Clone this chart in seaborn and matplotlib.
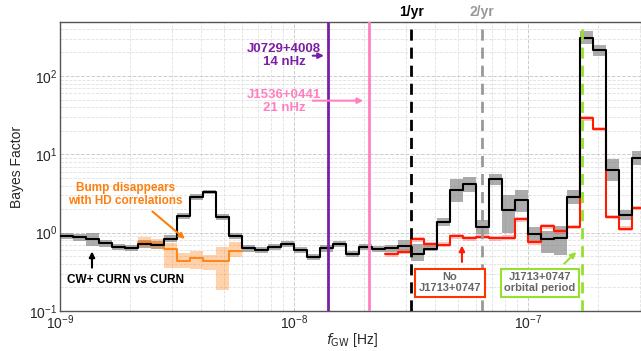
import numpy as np
import matplotlib
matplotlib.use("Agg")
import matplotlib.pyplot as plt
import matplotlib.transforms as mtransforms
import seaborn as sns

# -----------------------------
# Data: log-spaced GW frequency bins (18 per decade) and Bayes factors
# -----------------------------
freq_edges = np.logspace(-9, -6.5, 46)

bf_curn = [0.90, 0.87, 0.82, 0.73, 0.66, 0.64, 0.72, 0.70, 0.84, 1.62,
           2.86, 3.30, 1.59, 0.91, 0.63, 0.60, 0.65, 0.71, 0.60, 0.49,
           0.63, 0.72, 0.54, 0.66, 0.62, 0.63, 0.67, 0.54, 0.62, 1.36,
           3.47, 4.20, 1.18, 4.90, 1.95, 2.62, 0.95, 0.84, 0.85, 2.85,
           309.0, 212.0, 6.25, 1.70, 9.0]
# shaded band half-widths in dex (up / down)
curn_up = [0.04, 0.04, 0.08, 0.04, 0.04, 0.04, 0.05, 0.05, 0.04, 0.04,
           0.04, 0.03, 0.04, 0.04, 0.04, 0.04, 0.04, 0.04, 0.04, 0.04,
           0.04, 0.04, 0.04, 0.04, 0.04, 0.04, 0.075, 0.12, 0.06, 0.05,
           0.15, 0.085, 0.085, 0.065, 0.19, 0.13, 0.10, 0.10, 0.15, 0.085,
           0.08, 0.065, 0.15, 0.065, 0.09]
curn_dn = [0.04, 0.04, 0.08, 0.04, 0.04, 0.04, 0.05, 0.05, 0.04, 0.04,
           0.04, 0.03, 0.04, 0.04, 0.04, 0.04, 0.04, 0.04, 0.04, 0.04,
           0.04, 0.04, 0.04, 0.04, 0.04, 0.04, 0.075, 0.09, 0.03, 0.05,
           0.15, 0.105, 0.085, 0.085, 0.30, 0.15, 0.10, 0.19, 0.22, 0.085,
           0.08, 0.065, 0.13, 0.065, 0.09]

# HD-correlated run (bins 6-13)
hd_start = 6
bf_hd = [0.75, 0.71, 0.61, 0.44, 0.47, 0.43, 0.43, 0.59]
hd_up = [0.064, 0.064, 0.085, 0.10, 0.10, 0.077, 0.18, 0.11]
hd_dn = [0.064, 0.064, 0.23, 0.10, 0.14, 0.115, 0.37, 0.085]

# run without J1713+0747 (bins 25-44)
no1713_start = 25
bf_no1713 = [0.53, 0.57, 0.82, 0.71, 0.70, 0.90, 0.85, 0.89, 0.85, 0.86,
             1.48, 0.75, 1.20, 1.04, 1.18, 29.0, 21.0, 1.59, 1.12, 2.07]
no1713_err = 0.03

# reference frequencies
yr = 365.25 * 86400
f_1yr = 1 / yr
f_2yr = 2 / yr
f_j0729 = 14e-9
f_j1536 = 21e-9
f_j1713 = 1 / (67.825 * 86400)

# -----------------------------
# Plot
# -----------------------------
sns.set_style("ticks")
plt.rcParams["font.family"] = ["Liberation Sans", "DejaVu Sans"]
plt.rcParams["mathtext.fontset"] = "dejavusans"

fig = plt.figure(figsize=(6.41, 3.51), dpi=100)
ax = fig.add_axes([60 / 641, 40 / 351, 583 / 641, 289 / 351])


def step_series(start, vals, up, dn):
    e = freq_edges[start:start + len(vals) + 1]
    v = np.asarray(vals, float)
    v = np.append(v, v[-1])
    hi = v * 10 ** np.append(up, up[-1])
    lo = v / 10 ** np.append(dn, dn[-1])
    return e, v, lo, hi


# CURN band + line
e, v, lo, hi = step_series(0, bf_curn, np.array(curn_up), np.array(curn_dn))
ax.fill_between(e, lo, hi, step="post", color="#808080", alpha=0.65, lw=0, zorder=2)
curn_line = (e, v)

# HD band + line
e, v, lo, hi = step_series(hd_start, bf_hd, np.array(hd_up), np.array(hd_dn))
ax.fill_between(e, lo, hi, step="post", color="#ff7f0e", alpha=0.35, lw=0, zorder=2)
sns.lineplot(x=e, y=v, drawstyle="steps-post", color="#ff7f0e", lw=1.3,
             estimator=None, sort=False, ax=ax, zorder=3)

# no J1713 band + line
n = len(bf_no1713)
e, v, lo, hi = step_series(no1713_start, bf_no1713,
                           np.full(n, no1713_err), np.full(n, no1713_err))
ax.fill_between(e, lo, hi, step="post", color="#ff4d4d", alpha=0.35, lw=0, zorder=2)
sns.lineplot(x=e, y=v, drawstyle="steps-post", color="#ff1a00", lw=1.5,
             estimator=None, sort=False, ax=ax, zorder=3)

sns.lineplot(x=curn_line[0], y=curn_line[1], drawstyle="steps-post", color="black",
             lw=1.5, estimator=None, sort=False, ax=ax, zorder=4)

# vertical reference lines
ax.axvline(f_j0729, color="#7b1fa2", lw=2, zorder=5)
ax.axvline(f_j1536, color="#ff80c0", lw=2, zorder=5)
ax.axvline(f_1yr, color="black", lw=2, ls=(0, (4, 2.5)), zorder=5)
ax.axvline(f_2yr, color="#999999", lw=2, ls=(0, (4, 2.5)), zorder=5)
ax.axvline(f_j1713, color="#96e02e", lw=2, ls=(0, (4, 2.5)), zorder=5)

ax.set_xscale("log")
ax.set_yscale("log")
ax.set_xlim(1e-9, 3.1e-7)
ax.set_ylim(0.1, 490)

ax.grid(which="major", ls="--", color="#cccccc", lw=0.7)
ax.grid(which="minor", ls="--", color="#e0e0e0", lw=0.6)
ax.tick_params(which="both", length=0, labelsize=10, pad=2)
for s in ax.spines.values():
    s.set_color("#555555")
    s.set_linewidth(1.0)

ax.set_xlabel(r"$f_{\rm GW}$ [Hz]", fontsize=10, labelpad=-1)
ax.set_ylabel("Bayes Factor", fontsize=10, labelpad=4)

# labels above axes
trans = mtransforms.blended_transform_factory(ax.transData, ax.transAxes)
ax.text(f_1yr, 1.012, "1/yr", transform=trans, ha="center", va="bottom",
        fontsize=10, fontweight="bold", color="black")
ax.text(f_2yr, 1.012, "2/yr", transform=trans, ha="center", va="bottom",
        fontsize=10, fontweight="bold", color="#999999")

# annotations
ax.text(9.06e-9, 185, "J0729+4008\n14 nHz", ha="center", va="center",
        fontsize=9.5, fontweight="bold", color="#7b1fa2", linespacing=1.1, zorder=6)
ax.annotate("", xy=(1.38e-8, 182), xytext=(1.17e-8, 182),
            arrowprops=dict(arrowstyle="-|>", color="#7b1fa2", lw=1.5,
                            mutation_scale=8), zorder=6)
ax.text(9.06e-9, 47, "J1536+0441\n21 nHz", ha="center", va="center",
        fontsize=9.5, fontweight="bold", color="#ff80c0", linespacing=1.1, zorder=6)
ax.annotate("", xy=(2.03e-8, 48.5), xytext=(1.17e-8, 48.5),
            arrowprops=dict(arrowstyle="-|>", color="#ff80c0", lw=1.5,
                            mutation_scale=8), zorder=6)

ax.text(1.9e-9, 3.06, "Bump disappears\nwith HD correlations", ha="center",
        va="center", fontsize=8.5, fontweight="bold", color="#ff7f0e",
        linespacing=1.1, zorder=6)
ax.annotate("", xy=(3.49e-9, 0.79), xytext=(2.43e-9, 1.97),
            arrowprops=dict(arrowstyle="-|>", color="#ff7f0e", lw=1.5,
                            mutation_scale=8), zorder=6)

ax.text(1.9e-9, 0.25, "CW+ CURN vs CURN", ha="center", va="center",
        fontsize=8.5, fontweight="bold", color="black", zorder=6)
ax.annotate("", xy=(1.37e-9, 0.625), xytext=(1.37e-9, 0.33),
            arrowprops=dict(arrowstyle="-|>", color="black", lw=1.5,
                            mutation_scale=8), zorder=6)

ax.text(4.64e-8, 0.23, "No\nJ1713+0747", ha="center", va="center",
        fontsize=8, fontweight="bold", color="#666666", linespacing=1.15,
        bbox=dict(boxstyle="square,pad=0.3", fc="white", ec="#ff3300", lw=1.5),
        zorder=7)
ax.annotate("", xy=(5.22e-8, 0.745), xytext=(5.22e-8, 0.39),
            arrowprops=dict(arrowstyle="-|>", color="#ff1a00", lw=1.5,
                            mutation_scale=8), zorder=6)

ax.text(1.125e-7, 0.23, "J1713+0747\norbital period", ha="center", va="center",
        fontsize=8, fontweight="bold", color="#666666", linespacing=1.15,
        bbox=dict(boxstyle="square,pad=0.3", fc="white", ec="#96e02e", lw=1.5),
        zorder=7)
ax.annotate("", xy=(1.64e-7, 0.6), xytext=(1.4e-7, 0.38),
            arrowprops=dict(arrowstyle="-|>", color="#96e02e", lw=1.5,
                            mutation_scale=8), zorder=6)

plt.savefig("out.png", dpi=100)
